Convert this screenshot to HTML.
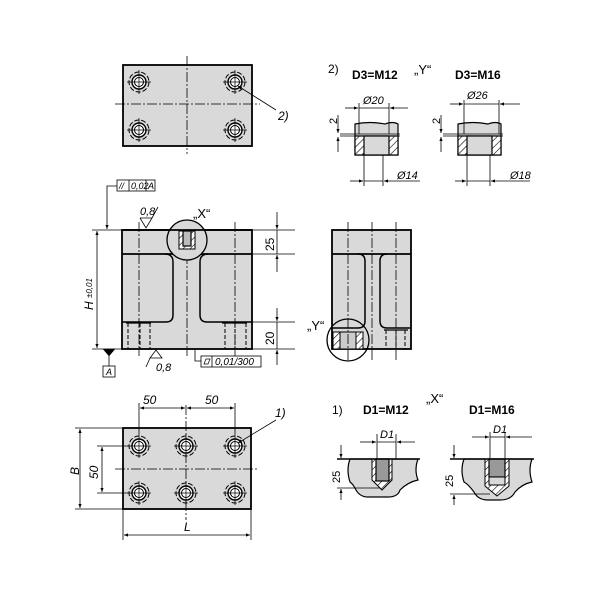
<!DOCTYPE html>
<html><head><meta charset="utf-8"><style>
html,body{margin:0;padding:0;background:#fff}
svg{display:block}
text{font-family:"Liberation Sans",sans-serif;font-style:italic;fill:#000}
.b{font-style:normal;font-weight:bold}
</style></head><body>
<svg width="600" height="600" viewBox="0 0 600 600" xmlns="http://www.w3.org/2000/svg">
<defs>
<marker id="a" viewBox="0 0 10 10" refX="10" refY="5" markerWidth="7" markerHeight="5" orient="auto-start-reverse"><path d="M0,1 L10,5 L0,9z" fill="#000"/></marker>
<pattern id="h" width="5" height="5" patternUnits="userSpaceOnUse" patternTransform="rotate(45)"><rect width="5" height="5" fill="#fff"/><line x1="0" y1="0" x2="0" y2="5" stroke="#000" stroke-width="1.2"/></pattern>
<g id="hole" stroke="#000" fill="none" stroke-width="1"><circle r="7" fill="#fff" stroke-width="1.4"/><circle r="4.5"/><circle r="10" stroke-dasharray="5,2"/><line x1="-12" y1="0" x2="12" y2="0" stroke-width="0.7"/><line x1="0" y1="-12" x2="0" y2="12" stroke-width="0.7"/></g>
</defs>
<g stroke="#000" fill="none">
<!-- TOP VIEW -->
<rect x="123" y="65" width="129" height="81" fill="#d9d9d9" stroke-width="1.8"/>
<g stroke-width="0.8" stroke-dasharray="10,2,2,2">
<line x1="187" y1="56" x2="187" y2="154"/><line x1="115" y1="104" x2="260" y2="104"/>
</g>
<use href="#hole" x="139" y="82"/><use href="#hole" x="235" y="82"/><use href="#hole" x="139" y="130"/><use href="#hole" x="235" y="130"/>
<line x1="276" y1="110" x2="238" y2="86" stroke-width="0.8" marker-end="url(#a)"/>

<!-- FRONT VIEW -->
<rect x="122" y="230" width="130" height="119" fill="#d9d9d9" stroke-width="1.8"/>
<line x1="122" y1="254" x2="252" y2="254" stroke-width="1.8"/>
<path d="M122,322 H166 Q173,322 173,315 V262 Q173,254 165,254" stroke-width="1.5"/>
<path d="M252,322 H207 Q200,322 200,315 V262 Q200,254 208,254" stroke-width="1.5"/>
<g stroke-width="1" stroke-dasharray="4,2"><line x1="128" y1="323" x2="128" y2="349"/><line x1="140" y1="323" x2="140" y2="349"/><line x1="150" y1="323" x2="150" y2="349"/><line x1="225" y1="323" x2="225" y2="349"/><line x1="235" y1="323" x2="235" y2="349"/><line x1="246" y1="323" x2="246" y2="349"/></g>
<line x1="126" y1="323" x2="151" y2="323" stroke-width="1.2"/><line x1="222" y1="323" x2="247" y2="323" stroke-width="1.2"/>
<g stroke-width="0.8" stroke-dasharray="10,2,2,2"><line x1="139" y1="222" x2="139" y2="356"/><line x1="187" y1="222" x2="187" y2="356"/><line x1="235" y1="222" x2="235" y2="356"/></g>
<circle cx="187" cy="240" r="20" fill="#d9d9d9" stroke-width="1.3"/>
<rect x="179" y="231" width="16" height="18" fill="url(#h)" stroke-width="1"/>
<rect x="183" y="231" width="8" height="15" fill="#bbb" stroke-width="1.2"/>
<line x1="122" y1="230" x2="252" y2="230" stroke-width="1.8"/>
<line x1="92" y1="230" x2="122" y2="230" stroke-width="0.8"/><line x1="92" y1="349" x2="122" y2="349" stroke-width="0.8"/>
<line x1="97" y1="231" x2="97" y2="348" stroke-width="0.8" marker-start="url(#a)" marker-end="url(#a)"/>
<path d="M117,186 H107 V229" stroke-width="0.8" marker-end="url(#a)"/>
<rect x="117" y="180" width="38" height="11" stroke-width="0.8" fill="#fff"/><line x1="129" y1="180" x2="129" y2="191" stroke-width="0.8"/><line x1="146" y1="180" x2="146" y2="191" stroke-width="0.8"/>
<path d="M103,349 L115,349 L109,356z" fill="#000" stroke-width="0.5"/>
<line x1="109" y1="356" x2="109" y2="366" stroke-width="0.8"/>
<rect x="103" y="366" width="12" height="11" stroke-width="0.8"/>
<line x1="252" y1="230" x2="295" y2="230" stroke-width="0.8"/><line x1="252" y1="254" x2="295" y2="254" stroke-width="0.8"/>
<line x1="252" y1="322" x2="295" y2="322" stroke-width="0.8"/><line x1="252" y1="349" x2="295" y2="349" stroke-width="0.8"/>
<line x1="277" y1="212" x2="277" y2="229" stroke-width="0.8" marker-end="url(#a)"/><line x1="277" y1="255" x2="277" y2="272" stroke-width="0.8" marker-start="url(#a)"/><line x1="277" y1="230" x2="277" y2="254" stroke-width="0.8"/>
<line x1="277" y1="308" x2="277" y2="321" stroke-width="0.8" marker-end="url(#a)"/><line x1="277" y1="350" x2="277" y2="365" stroke-width="0.8" marker-start="url(#a)"/><line x1="277" y1="322" x2="277" y2="349" stroke-width="0.8"/>
<path d="M140,218 L146,228 L152,218 H140 M152,218 L158,207" stroke-width="0.8"/>
<path d="M150,358 L156,350 L162,358 H150 M150,358 L146,367" stroke-width="0.8"/>
<path d="M195,350 V361 H201" stroke-width="0.8"/>
<rect x="201" y="356" width="60" height="11" stroke-width="0.8"/><line x1="212" y1="356" x2="212" y2="367" stroke-width="0.8"/>
<path d="M204,364 L206,359 H210 L208,364z" stroke-width="0.7"/>

<!-- SIDE VIEW -->
<rect x="332" y="230" width="79" height="119" fill="#d9d9d9" stroke-width="1.8"/>
<line x1="332" y1="254" x2="411" y2="254" stroke-width="1.8"/>
<path d="M332,328 H358 Q365,328 365,321 V261 Q365,254 358,254" stroke-width="1.5"/>
<path d="M411,328 H387 Q380,328 380,321 V261 Q380,254 387,254" stroke-width="1.5"/>
<g stroke-width="1" stroke-dasharray="4,2"><line x1="386" y1="330" x2="386" y2="349"/><line x1="396" y1="330" x2="396" y2="349"/><line x1="405" y1="330" x2="405" y2="349"/></g>
<line x1="384" y1="330" x2="408" y2="330" stroke-width="1.2"/>
<circle cx="348" cy="340" r="21" fill="none" stroke-width="1.3"/>
<rect x="333" y="332" width="30" height="17" fill="url(#h)" stroke-width="1"/>
<rect x="340" y="332" width="16" height="17" fill="#ccc" stroke-width="1"/>
<g stroke-width="0.8" stroke-dasharray="10,2,2,2"><line x1="348" y1="222" x2="348" y2="362"/><line x1="372" y1="222" x2="372" y2="362"/><line x1="396" y1="222" x2="396" y2="362"/></g>

<!-- BOTTOM VIEW -->
<rect x="123" y="428" width="128" height="81" fill="#d9d9d9" stroke-width="1.8"/>
<g stroke-width="0.8" stroke-dasharray="10,2,2,2"><line x1="115" y1="469" x2="258" y2="469"/><line x1="186" y1="405" x2="186" y2="520"/></g>
<use href="#hole" x="139" y="446"/><use href="#hole" x="186" y="446"/><use href="#hole" x="235" y="446"/>
<use href="#hole" x="139" y="493"/><use href="#hole" x="186" y="493"/><use href="#hole" x="235" y="493"/>
<line x1="139" y1="403" x2="139" y2="434" stroke-width="0.8"/><line x1="235" y1="403" x2="235" y2="434" stroke-width="0.8"/>
<line x1="140" y1="408" x2="185" y2="408" stroke-width="0.8" marker-start="url(#a)" marker-end="url(#a)"/>
<line x1="187" y1="408" x2="234" y2="408" stroke-width="0.8" marker-start="url(#a)" marker-end="url(#a)"/>
<line x1="75" y1="428" x2="123" y2="428" stroke-width="0.8"/><line x1="75" y1="509" x2="123" y2="509" stroke-width="0.8"/>
<line x1="80" y1="429" x2="80" y2="508" stroke-width="0.8" marker-start="url(#a)" marker-end="url(#a)"/>
<line x1="97" y1="446" x2="128" y2="446" stroke-width="0.8"/><line x1="97" y1="493" x2="128" y2="493" stroke-width="0.8"/>
<line x1="102" y1="447" x2="102" y2="492" stroke-width="0.8" marker-start="url(#a)" marker-end="url(#a)"/>
<line x1="123" y1="509" x2="123" y2="540" stroke-width="0.8"/><line x1="251" y1="509" x2="251" y2="540" stroke-width="0.8"/>
<line x1="124" y1="535" x2="250" y2="535" stroke-width="0.8" marker-start="url(#a)" marker-end="url(#a)"/>
<line x1="276" y1="420" x2="238" y2="443" stroke-width="0.8" marker-end="url(#a)"/>

<!-- Y details -->
<g id="y1">
<path d="M355,124 Q370,121 385,124 Q393,121 398,124 V155 H355z" fill="#d9d9d9" stroke-width="1.2"/>
<rect x="355" y="136" width="43" height="19" fill="url(#h)" stroke-width="1.2"/>
<rect x="364" y="136" width="25" height="19" fill="#d9d9d9" stroke-width="1.2"/>
<line x1="340" y1="134" x2="400" y2="134" stroke-width="0.8"/><line x1="340" y1="136" x2="400" y2="136" stroke-width="0.8"/>
</g>
<line x1="359" y1="103" x2="359" y2="134" stroke-width="0.8"/><line x1="389" y1="103" x2="389" y2="134" stroke-width="0.8"/>
<line x1="345" y1="108" x2="358" y2="108" stroke-width="0.8" marker-end="url(#a)"/><line x1="359" y1="108" x2="389" y2="108" stroke-width="0.8"/><line x1="390" y1="108" x2="408" y2="108" stroke-width="0.8" marker-start="url(#a)"/>
<line x1="364" y1="155" x2="364" y2="186" stroke-width="0.8"/><line x1="383" y1="155" x2="383" y2="186" stroke-width="0.8"/>
<line x1="350" y1="181" x2="363" y2="181" stroke-width="0.8" marker-end="url(#a)"/><line x1="364" y1="181" x2="383" y2="181" stroke-width="0.8"/><line x1="384" y1="181" x2="420" y2="181" stroke-width="0.8" marker-start="url(#a)"/>
<line x1="338" y1="115" x2="338" y2="133" stroke-width="0.8" marker-end="url(#a)"/><line x1="338" y1="137" x2="338" y2="152" stroke-width="0.8" marker-start="url(#a)"/>
<use href="#y1" x="103"/>
<line x1="464" y1="100" x2="464" y2="134" stroke-width="0.8"/><line x1="499" y1="100" x2="499" y2="134" stroke-width="0.8"/>
<line x1="450" y1="104" x2="463" y2="104" stroke-width="0.8" marker-end="url(#a)"/><line x1="464" y1="104" x2="499" y2="104" stroke-width="0.8"/><line x1="500" y1="104" x2="520" y2="104" stroke-width="0.8" marker-start="url(#a)"/>
<line x1="467" y1="155" x2="467" y2="186" stroke-width="0.8"/><line x1="490" y1="155" x2="490" y2="186" stroke-width="0.8"/>
<line x1="455" y1="181" x2="466" y2="181" stroke-width="0.8" marker-end="url(#a)"/><line x1="467" y1="181" x2="490" y2="181" stroke-width="0.8"/><line x1="491" y1="181" x2="530" y2="181" stroke-width="0.8" marker-start="url(#a)"/>
<line x1="441" y1="115" x2="441" y2="133" stroke-width="0.8" marker-end="url(#a)"/><line x1="441" y1="137" x2="441" y2="152" stroke-width="0.8" marker-start="url(#a)"/>

<!-- X details -->
<path d="M350,459 H418 Q414,470 418,480 Q408,482 400,490 Q398,497 388,497 H368 Q360,497 356,490 Q353,484 350,482 Q346,470 350,459z" fill="#d9d9d9" stroke-width="1.2"/>
<path d="M372,459 H392 V480 L382,490 L372,480z" fill="url(#h)" stroke-width="1"/>
<rect x="376" y="459" width="13" height="22" fill="#999" stroke-width="1.2"/>
<line x1="337" y1="459" x2="420" y2="459" stroke-width="1.5"/>
<line x1="377" y1="434" x2="377" y2="459" stroke-width="0.8"/><line x1="396" y1="434" x2="396" y2="459" stroke-width="0.8"/>
<line x1="360" y1="442" x2="376" y2="442" stroke-width="0.8" marker-end="url(#a)"/><line x1="377" y1="442" x2="396" y2="442" stroke-width="0.8"/><line x1="397" y1="442" x2="415" y2="442" stroke-width="0.8" marker-start="url(#a)"/>
<line x1="337" y1="488" x2="380" y2="488" stroke-width="0.8"/>
<line x1="341" y1="445" x2="341" y2="458" stroke-width="0.8" marker-end="url(#a)"/><line x1="341" y1="489" x2="341" y2="500" stroke-width="0.8" marker-start="url(#a)"/>

<path d="M464,459 H532 Q528,470 532,482 Q522,484 515,492 Q511,500 500,500 H488 Q478,500 474,492 Q468,484 464,482 Q460,470 464,459z" fill="#d9d9d9" stroke-width="1.2"/>
<path d="M485,459 H509 V486 L497,496 L485,486z" fill="url(#h)" stroke-width="1"/>
<rect x="489" y="459" width="16" height="18" fill="#999" stroke-width="1.2"/>
<rect x="489" y="477" width="16" height="8" fill="#d9d9d9" stroke-width="1"/>
<line x1="450" y1="459" x2="534" y2="459" stroke-width="1.5"/>
<line x1="490" y1="432" x2="490" y2="459" stroke-width="0.8"/><line x1="505" y1="432" x2="505" y2="459" stroke-width="0.8"/>
<line x1="472" y1="437" x2="489" y2="437" stroke-width="0.8" marker-end="url(#a)"/><line x1="490" y1="437" x2="505" y2="437" stroke-width="0.8"/><line x1="506" y1="437" x2="532" y2="437" stroke-width="0.8" marker-start="url(#a)"/>
<line x1="450" y1="494" x2="490" y2="494" stroke-width="0.8"/>
<line x1="454" y1="445" x2="454" y2="458" stroke-width="0.8" marker-end="url(#a)"/><line x1="454" y1="495" x2="454" y2="505" stroke-width="0.8" marker-start="url(#a)"/>
</g>

<!-- TEXT -->
<text x="278" y="120" font-size="12">2)</text>
<text x="193" y="218" font-size="13" style="font-style:normal">„X“</text>
<text x="140" y="215" font-size="11">0,8</text>
<text x="156" y="371" font-size="11">0,8</text>
<text x="119" y="189" font-size="9">//</text><text x="131" y="189" font-size="9">0,02</text><text x="148" y="189" font-size="9">A</text>
<text x="106" y="375" font-size="9">A</text>
<text x="215" y="365" font-size="10">0,01/300</text>
<text transform="translate(93,310) rotate(-90)" font-size="12">H</text>
<text transform="translate(92,298) rotate(-90)" font-size="8">±0,01</text>
<text transform="translate(274,251) rotate(-90)" font-size="12" style="font-style:normal">25</text>
<text transform="translate(274,345) rotate(-90)" font-size="12" style="font-style:normal">20</text>
<text x="307" y="330" font-size="13" style="font-style:normal">„Y“</text>
<text x="143" y="404" font-size="12">50</text><text x="205" y="404" font-size="12">50</text>
<text x="275" y="417" font-size="12">1)</text>
<text transform="translate(79,475) rotate(-90)" font-size="12">B</text>
<text transform="translate(98,479) rotate(-90)" font-size="12">50</text>
<text x="184" y="531" font-size="12">L</text>
<text x="328" y="73" font-size="12" style="font-style:normal">2)</text>
<text x="352" y="79" font-size="12" class="b">D3=M12</text>
<text x="414" y="74" font-size="13" style="font-style:normal">„Y“</text>
<text x="455" y="79" font-size="12" class="b">D3=M16</text>
<text x="363" y="104" font-size="11">Ø20</text><text x="467" y="99" font-size="11">Ø26</text>
<text x="397" y="179" font-size="11">Ø14</text><text x="510" y="179" font-size="11">Ø18</text>
<text transform="translate(337,124) rotate(-90)" font-size="11" style="font-style:normal">2</text>
<text transform="translate(440,124) rotate(-90)" font-size="11" style="font-style:normal">2</text>
<text x="426" y="403" font-size="13" style="font-style:normal">„X“</text>
<text x="332" y="414" font-size="12" style="font-style:normal">1)</text>
<text x="363" y="414" font-size="12" class="b">D1=M12</text>
<text x="469" y="414" font-size="12" class="b">D1=M16</text>
<text x="380" y="438" font-size="11">D1</text><text x="493" y="433" font-size="11">D1</text>
<text transform="translate(340,483) rotate(-90)" font-size="11" style="font-style:normal">25</text>
<text transform="translate(453,487) rotate(-90)" font-size="11" style="font-style:normal">25</text>
</svg>
</body></html>
